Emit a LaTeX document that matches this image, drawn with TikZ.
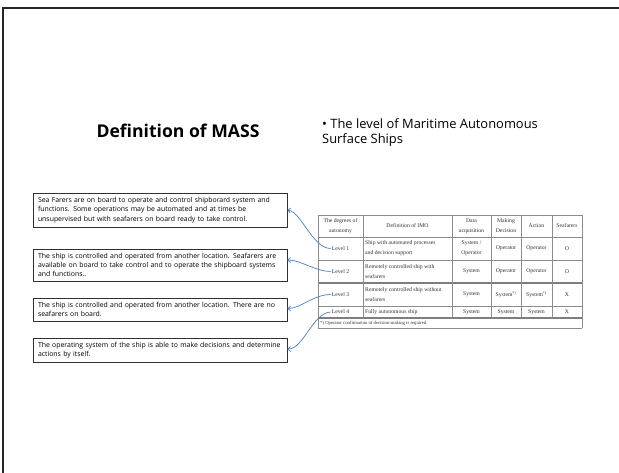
\documentclass[tikz,border=0pt]{standalone}
\usepackage{fontspec}
\setmainfont{Open Sans}
\newfontfamily\tabfont{Liberation Serif}
\usetikzlibrary{arrows.meta,calc}
\definecolor{linkblue}{HTML}{4A7EBB}
\definecolor{gridgray}{HTML}{8C8C8C}
\definecolor{boxline}{HTML}{303030}

\begin{document}
\begin{tikzpicture}[x=1pt,y=-1pt,
  infobox/.style={draw=boxline, line width=0.9pt, minimum width=254pt,
    text width=244pt, inner xsep=5pt, inner ysep=0pt, align=left,
    font=\fontsize{6.9}{9.4}\selectfont},
  cell/.style={inner sep=1pt, align=center, text=black!80,
    font=\tabfont\fontsize{5.7}{10}\selectfont},
  lcell/.style={cell, align=left, anchor=west},
  thin grid/.style={draw=gridgray, line width=0.5pt},
  thick grid/.style={draw=gridgray!90!black, line width=1.2pt},
  link/.style={draw=linkblue, line width=0.7pt,
    -{Straight Barb[length=2.6pt,width=5pt]}}]

\useasboundingbox (0,0) rectangle (619,472);
\fill[white] (0,0) rectangle (619,472);

% slide frame
\draw[line width=2.2pt, black!85] (3,480) -- (3,8) -- (630,8);

% headings
\node[anchor=base, inner sep=0pt, font=\bfseries\fontsize{17.6}{20}\selectfont]
  (title) at (178,137) {Definition of MASS};
\node[anchor=north west, inner sep=0pt, align=left,
  font=\fontsize{12.9}{15}\selectfont]
  (subtitle) at (322,118) {\textbullet\ The level of Maritime Autonomous\\Surface Ships};

% description boxes
\node[infobox, minimum height=34pt] (b1) at (160,210)
  {Sea Farers are on board to operate and control shipborard system and\\
   functions. Some operations may be automated and at times be\\
   unsupervised but with seafarers on board ready to take control.};
\node[infobox, minimum height=32pt] (b2) at (160,265)
  {The ship is controlled and operated from another location. Seafarers are\\
   available on board to take control and to operate the shipboard systems\\
   and functions..};
\node[infobox, minimum height=23pt] (b3) at (160,309.5)
  {The ship is controlled and operated from another location. There are no\\
   seafarers on board.};
\node[infobox, minimum height=24pt] (b4) at (160,350)
  {The operating system of the ship is able to make decisions and determine\\
   actions by itself.};

% table grid
\foreach \y in {237,260,306} \draw[thin grid] (318,\y) -- (582,\y);
\foreach \y in {283,318} \draw[thick grid] (318,\y) -- (582,\y);
\draw[thin grid] (318,215) -- (582,215);
\draw[thin grid] (318,328) -- (582,328);
\foreach \x in {363,452,491,521,552} \draw[thin grid] (\x,215) -- (\x,318);
\draw[thin grid] (318,215) -- (318,328);
\draw[thin grid] (582,215) -- (582,328);

% header row
\node[cell] (h1) at (340.5,226) {The degrees of\\autonomy};
\node[cell] (h2) at (407.5,226) {Definition of IMO};
\node[cell] (h3) at (471.5,226) {Data\\acquisition};
\node[cell] (h4) at (506,226) {Making\\Decision};
\node[cell] (h5) at (536.5,226) {Action};
\node[cell] (h6) at (567,226) {Seafarers};

% level 1
\node[cell] (l1) at (340.5,248.5) {Level 1};
\node[lcell] (d1) at (364,248.5) {Ship with automated processes\\and decision support};
\node[cell] (s1) at (471.5,248.5) {System /\\Operator};
\node[cell] (m1) at (506,248.5) {Operator};
\node[cell] (a1) at (536.5,248.5) {Operator};
\node[cell] (f1) at (567,248.5) {O};

% level 2
\node[cell] (l2) at (340.5,271.5) {Level 2};
\node[lcell] (d2) at (364,271.5) {Remotely controlled ship with\\seafarers};
\node[cell] (s2) at (471.5,271.5) {System};
\node[cell] (m2) at (506,271.5) {Operator};
\node[cell] (a2) at (536.5,271.5) {Operator};
\node[cell] (f2) at (567,271.5) {O};

% level 3
\node[cell] (l3) at (340.5,294.5) {Level 3};
\node[lcell] (d3) at (364,294.5) {Remotely controlled ship without\\seafarers};
\node[cell] (s3) at (471.5,294.5) {System};
\node[cell] (m3) at (506,294.5) {System\textsuperscript{*)}};
\node[cell] (a3) at (536.5,294.5) {System\textsuperscript{*)}};
\node[cell] (f3) at (567,294.5) {X};

% level 4
\node[cell] (l4) at (340.5,312) {Level 4};
\node[lcell] (d4) at (364,312) {Fully autonomous ship};
\node[cell] (s4) at (471.5,312) {System};
\node[cell] (m4) at (506,312) {System};
\node[cell] (a4) at (536.5,312) {System};
\node[cell] (f4) at (567,312) {X};

% footnote
\node[lcell, font=\tabfont\fontsize{4.7}{5}\selectfont] (fn) at (319,323)
  {*) Operator confirmation of decision-making is required.};

% connectors from levels to descriptions
\draw[link] (l1.west) .. controls ($(l1.west)+(-18,0)$) and ($(b1.east)+(14,2)$) .. (b1.east);
\draw[link] (l2.west) .. controls ($(l2.west)+(-15,0)$) and ($(b2.east)+(13,-5)$) .. ($(b2.east)+(0,-5)$);
\draw[link] (l3.west) .. controls ($(l3.west)+(-17,0)$) and ($(b3.east)+(13,-1)$) .. ($(b3.east)+(0,-1)$);
\draw[link] (l4.west) .. controls ($(l4.west)+(-18,1)$) and ($(b4.east)+(16,-1)$) .. ($(b4.east)+(0,-1)$);
\end{tikzpicture}
\end{document}
